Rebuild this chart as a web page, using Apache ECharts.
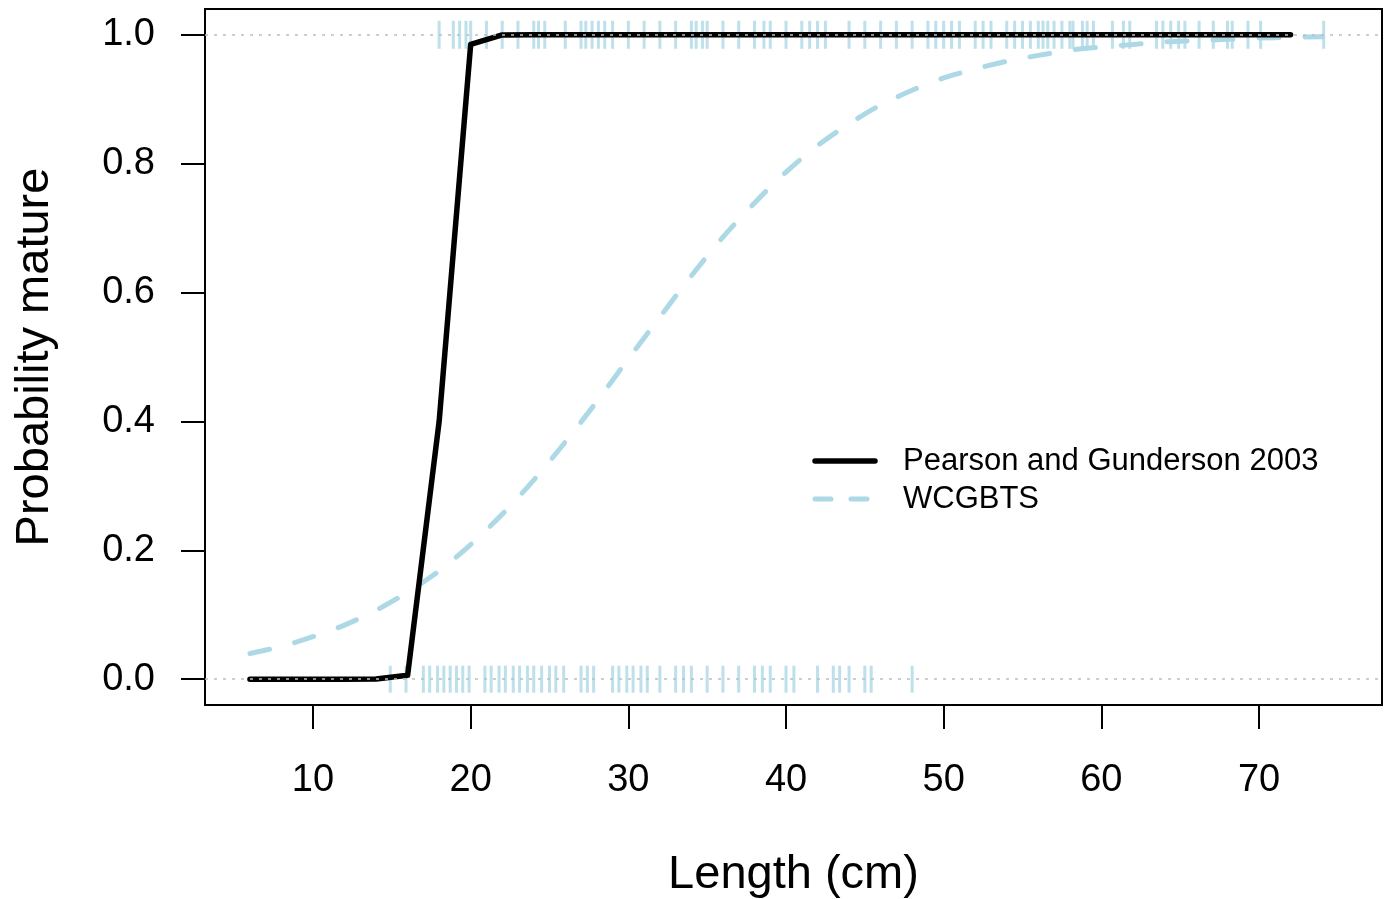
<!DOCTYPE html>
<html>
<head>
<meta charset="utf-8">
<script src="https://cdn.jsdelivr.net/npm/echarts@6/dist/echarts.min.js"></script>
<style>
  html, body { margin: 0; padding: 0; background: #fff; }
  #chart { width: 1396px; height: 899px; }
</style>
</head>
<body>
<div id="chart"></div>
<script>
// Maturity-at-length curves (length in cm, probability mature)
const curveLengths = [6, 8, 10, 12, 14, 16, 18, 20, 22, 24, 26, 28, 30, 32, 34, 36, 38, 40,
  42, 44, 46, 48, 50, 52, 54, 56, 58, 60, 62, 64, 66, 68, 70, 72, 74];

// Pearson and Gunderson 2003 (ends at 72 cm)
const pearsonProb = [0, 0, 0, 0, 0.0005, 0.006, 0.40, 0.985, 0.9998, 1, 1, 1, 1, 1, 1, 1, 1, 1,
  1, 1, 1, 1, 1, 1, 1, 1, 1, 1, 1, 1, 1, 1, 1, 1];

// WCGBTS maturity ogive
const wcgbtsProb = [0.040, 0.051, 0.066, 0.084, 0.107, 0.135, 0.168, 0.209, 0.256, 0.309,
  0.368, 0.431, 0.497, 0.562, 0.626, 0.686, 0.739, 0.787, 0.828, 0.862, 0.891, 0.914,
  0.933, 0.947, 0.959, 0.968, 0.976, 0.981, 0.985, 0.989, 0.991, 0.993, 0.995, 0.996, 0.997];

// Observed lengths of mature fish (rug at 1) and immature fish (rug at 0)
const matureLengths = [18.0, 18.9, 19.3, 19.7, 20.0, 21.0, 22.0, 23.0, 24.0, 24.3, 24.7, 26.0,
  27.0, 27.3, 27.7, 28.1, 28.5, 29.0, 30.0, 31.0, 32.0, 33.0, 34.0, 34.3, 34.7, 35.0, 36.0,
  37.0, 38.0, 38.6, 39.0, 40.0, 41.0, 41.5, 42.0, 42.5, 44.0, 45.0, 46.0, 47.0, 48.0, 49.0,
  49.5, 50.0, 50.5, 51.0, 52.0, 52.5, 53.0, 54.0, 54.5, 55.0, 55.5, 56.0, 56.3, 56.6, 57.0,
  57.5, 58.0, 58.2, 58.8, 59.1, 59.5, 60.7, 61.4, 61.8, 63.5, 63.9, 64.4, 64.9, 65.3, 66.2,
  67.1, 68.0, 68.3, 69.3, 70.1, 74.1];
const immatureLengths = [14.9, 15.9, 17.0, 17.4, 17.9, 18.3, 18.7, 19.1, 19.5, 19.9, 20.9,
  21.3, 21.8, 22.2, 22.7, 23.1, 23.6, 24.0, 24.5, 25.0, 25.4, 25.9, 27.0, 27.4, 27.8, 29.0,
  29.4, 29.9, 30.3, 30.8, 31.2, 32.0, 33.0, 33.5, 34.0, 35.0, 36.0, 37.0, 38.0, 38.5, 39.0,
  40.0, 40.5, 42.0, 43.0, 43.4, 44.0, 45.0, 45.4, 48.0];

const xTicks = [10, 20, 30, 40, 50, 60, 70];
const yTicks = [0, 0.2, 0.4, 0.6, 0.8, 1.0];
const legendNames = ['Pearson and Gunderson 2003', 'WCGBTS'];

const FONT = '"Liberation Sans", Arial, Helvetica, sans-serif';
const RUG_BLUE = '#ADD8E6';
const BLACK_STYLE = { stroke: '#000', lineWidth: 5.5, lineCap: 'round' };
const DASH_STYLE = { stroke: RUG_BLUE, lineWidth: 5, lineCap: 'round', lineDash: [16, 20] };

const chart = echarts.init(document.getElementById('chart'), null, { renderer: 'canvas' });

const pearsonData = pearsonProb.map((p, i) => [curveLengths[i], p]);
const wcgbtsData = wcgbtsProb.map((p, i) => [curveLengths[i], p]);

// Legend drawn as line samples plus labels
const legendX = 815, legendY = 461, legendRow = 38;
const legendGraphics = [];
legendNames.forEach((name, i) => {
  const y = legendY + i * legendRow;
  legendGraphics.push({
    type: 'line', silent: true,
    shape: { x1: legendX, y1: y, x2: legendX + 60, y2: y },
    style: i === 0 ? BLACK_STYLE : DASH_STYLE
  });
  legendGraphics.push({
    type: 'text', silent: true, x: legendX + 88, y: y,
    style: { text: name, fontFamily: FONT, fontSize: 31, fill: '#000',
      verticalAlign: 'middle', align: 'left' }
  });
});

chart.setOption({
  backgroundColor: '#ffffff',
  animation: false,
  grid: {
    left: 205, top: 9, right: 14, bottom: 194,
    containLabel: false, outerBoundsMode: 'none',
    show: true, borderColor: '#000', borderWidth: 2, backgroundColor: 'transparent'
  },
  xAxis: {
    type: 'value', min: 3.15, max: 77.8, position: 'bottom',
    name: 'Length (cm)', nameLocation: 'middle', nameGap: 147,
    nameTextStyle: { fontFamily: FONT, fontSize: 47, color: '#000' },
    axisLine: { show: true, onZero: false, lineStyle: { color: '#000', width: 2 } },
    splitLine: { show: false },
    axisTick: { show: true, length: 24, inside: false, customValues: xTicks,
      lineStyle: { color: '#000', width: 2 } },
    axisLabel: { customValues: xTicks, margin: 57, fontFamily: FONT, fontSize: 38, color: '#000' }
  },
  yAxis: {
    type: 'value', min: -0.04, max: 1.04, position: 'left',
    name: 'Probability mature', nameLocation: 'middle', nameGap: 146, nameRotate: 90,
    nameTextStyle: { fontFamily: FONT, fontSize: 47, color: '#000' },
    axisLine: { show: true, onZero: false, lineStyle: { color: '#000', width: 2 } },
    splitLine: { show: false },
    axisTick: { show: true, length: 24, inside: false, customValues: yTicks,
      lineStyle: { color: '#000', width: 2 } },
    axisLabel: { customValues: yTicks, margin: 50, fontFamily: FONT, fontSize: 38, color: '#000',
      formatter: v => v.toFixed(1) }
  },
  graphic: legendGraphics,
  series: [
    {
      // reference lines at 0 and 1
      name: 'refs', type: 'line', data: [], silent: true, z: 1,
      markLine: {
        silent: true, symbol: ['none', 'none'], label: { show: false },
        lineStyle: { color: '#bdbdbd', type: [3, 6], width: 1.5 },
        data: [{ yAxis: 0 }, { yAxis: 1 }]
      }
    },
    {
      name: 'mature', type: 'scatter', silent: true, z: 2,
      symbol: 'rect', symbolSize: [3, 28],
      itemStyle: { color: RUG_BLUE },
      data: matureLengths.map(x => [x, 1])
    },
    {
      name: 'immature', type: 'scatter', silent: true, z: 2,
      symbol: 'rect', symbolSize: [3, 27],
      itemStyle: { color: RUG_BLUE },
      data: immatureLengths.map(x => [x, 0])
    },
    {
      name: 'WCGBTS', type: 'line', z: 3, smooth: 0.3,
      symbol: 'none', showSymbol: false,
      lineStyle: { color: RUG_BLUE, width: 5, type: [20, 26], cap: 'round' },
      data: wcgbtsData
    },
    {
      name: 'Pearson and Gunderson 2003', type: 'line', z: 4,
      symbol: 'none', showSymbol: false,
      lineStyle: { color: '#000', width: 5.5, cap: 'round', join: 'round' },
      data: pearsonData
    }
  ]
});
</script>
</body>
</html>
